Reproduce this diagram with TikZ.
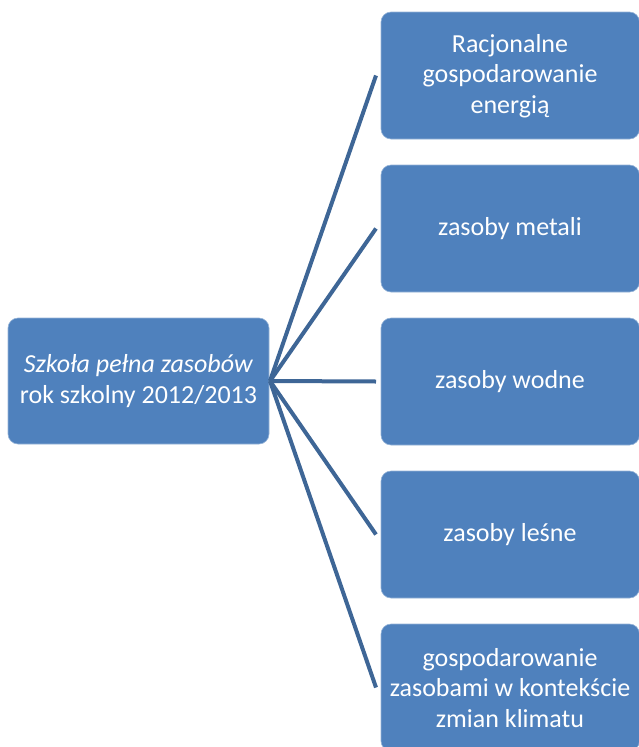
\documentclass[tikz,border=0pt]{standalone}
\usepackage{fontspec}
\setmainfont{Carlito}
\definecolor{boxblue}{RGB}{79,129,189}
\definecolor{lineblue}{RGB}{62,102,150}
\begin{document}
\begin{tikzpicture}[x=1pt,y=-1pt,
  bx/.style={fill=boxblue, draw=boxblue!60!white, line width=0.6pt, rounded corners=10pt},
  lbl/.style={align=center, text=white, inner sep=0pt, font=\fontsize{26}{30.5}\selectfont},
  conn/.style={draw=lineblue, line width=4pt}]
\useasboundingbox (0,0) rectangle (639,747);
\clip (0,0) rectangle (639,747);
\path[bx] (8,318) rectangle (269,444);
\node[lbl] (root) at (138.5,381) {\textit{Szkoła pełna zasobów}\\rok szkolny 2012/2013};
\coordinate (rootE) at (270,381);
\foreach \i/\y/\t in {a/12/{Racjonalne\\gospodarowanie\\energią}, b/165/{zasoby metali}, c/318/{zasoby wodne}, d/471/{zasoby leśne}, e/624/{gospodarowanie\\zasobami w kontekście\\zmian klimatu}}{
  \path[bx] (381,\y) rectangle (639.5,\y+127);
  \node[lbl] (\i) at (510,\y+64) {\t};
  \coordinate (\i W) at (376,\y+63.5);
}
\foreach \i in {a,b,c,d,e}{
  \draw[conn] (rootE) -- (\i W);
}
\end{tikzpicture}
\end{document}
